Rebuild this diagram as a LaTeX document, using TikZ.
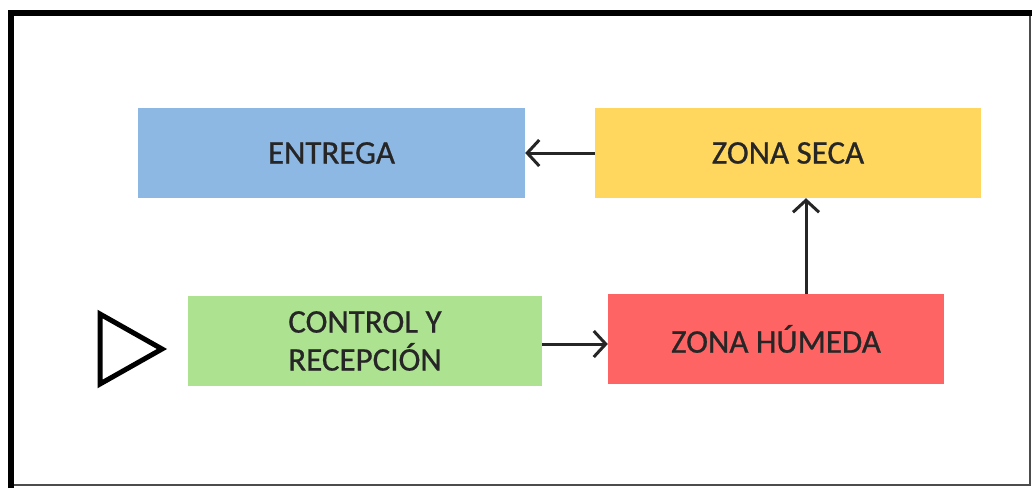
\documentclass[tikz,border=0pt]{standalone}
\usepackage{fontspec}
\newfontfamily\labelfont{Carlito}[FakeBold=0.7]
\usetikzlibrary{arrows.meta}
\definecolor{boxblue}{HTML}{8DB8E4}
\definecolor{boxyellow}{HTML}{FFD75F}
\definecolor{boxgreen}{HTML}{ADE291}
\definecolor{boxred}{HTML}{FF6464}
\definecolor{txt}{HTML}{262626}
\begin{document}
\begin{tikzpicture}[x=1pt,y=-1pt,
  block/.style={draw=none,inner sep=0pt,text=txt,align=center,
    font=\labelfont\fontsize{33}{38}\selectfont},
  link/.style={draw=black!85,line width=3pt,-{Straight Barb[length=12pt,width=26pt,line width=3pt]}}]
\useasboundingbox (0,0) rectangle (1034,488);
\fill[white] (0,0) rectangle (1034,488);
% frame: heavy top and left edges, light right and bottom edges
\draw[line width=2pt,black!70] (1030,13) -- (1030,485) -- (11,485);
\draw[line width=6pt,black] (11,488) -- (11,13) -- (1032,13);
% process blocks
\node[block,fill=boxblue,minimum width=387pt,minimum height=90pt] (entrega) at (331.5,153) {ENTREGA};
\node[block,fill=boxyellow,minimum width=386pt,minimum height=90pt] (seca) at (788,153) {ZONA SECA};
\node[block,fill=boxgreen,minimum width=354pt,minimum height=90pt] (control) at (365,341) {CONTROL Y\\RECEPCIÓN};
\node[block,fill=boxred,minimum width=336pt,minimum height=90pt] (humeda) at (776,339) {ZONA HÚMEDA};
% start marker
\coordinate (t1) at (100,314);
\coordinate (t2) at (162,349);
\coordinate (t3) at (100,384);
\draw[line width=5pt,line join=miter] (t1) -- (t2) -- (t3) -- cycle;
% flow
\draw[link] (control.east |- 0,344) -- (humeda.west |- 0,344);
\draw[link] (humeda.north -| 806,0) -- (seca.south -| 806,0);
\draw[link] (seca.west) -- (entrega.east);
\end{tikzpicture}
\end{document}
